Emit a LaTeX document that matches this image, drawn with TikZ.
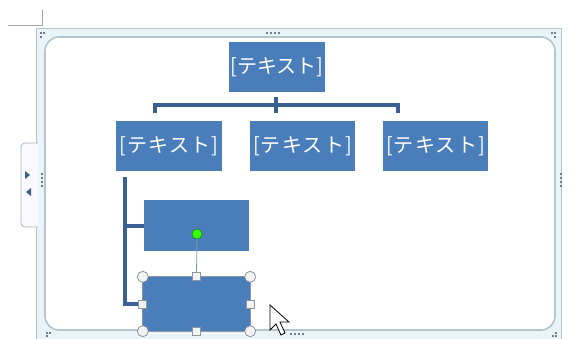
\documentclass[tikz,border=0pt]{standalone}
\usepackage{fontspec}
\newfontfamily\cjk{Noto Sans CJK JP}
\newfontfamily\cjkwide[LetterSpace=6]{Noto Sans CJK JP}
\definecolor{nodeblue}{HTML}{4A7EBB}
\definecolor{linkblue}{HTML}{3A5F92}
\definecolor{framefill}{HTML}{EAF4F8}
\definecolor{frameline}{HTML}{B4C4CC}
\definecolor{dotgray}{HTML}{6F7F8F}
\definecolor{handlegray}{HTML}{8A96A2}
\tikzset{
  box/.style={draw=none, fill=nodeblue, text=white, inner sep=0pt, font=\cjk\fontsize{20}{20}\selectfont},
  widebox/.style={box, font=\cjkwide\fontsize{20}{20}\selectfont},
  link/.style={draw=linkblue, line width=4pt},
  grip/.style={fill=dotgray, draw=none},
  chandle/.style={circle, draw=handlegray, fill=white!90!gray, minimum size=11pt, inner sep=0pt, line width=0.8pt},
  shandle/.style={rectangle, draw=handlegray, fill=white!90!gray, minimum size=8pt, inner sep=0pt, line width=0.8pt}
}
\begin{document}
\begin{tikzpicture}[x=1pt,y=-1pt]
\useasboundingbox (0,0) rectangle (571,338);
% crop marks
\draw[gray!70, line width=0.8pt] (8,25) -- (42,25) -- (42,10);
% frame
\draw[frameline, fill=framefill, line width=0.8pt] (36,28) rectangle (561,345);
\draw[frameline, fill=white, line width=1.6pt, rounded corners=14pt] (45,37) rectangle (555,330);
% grips
\foreach \x/\y in {41/33,44/33,41/37,552/33,555/33,555/37,47/333,50/333,47/336,556/333,556/336,553/336}
  \fill[grip] (\x-1,\y-1) rectangle (\x+1,\y+1);
\foreach \x in {267,271,275,279} \fill[grip] (\x-1,32) rectangle (\x+1,34);
\foreach \x in {291,295,299,303} \fill[grip] (\x-1,333) rectangle (\x+1,335);
\foreach \y in {174,178,182,186} \fill[grip] (560,\y-1) rectangle (562,\y+1);
\foreach \y in {174,178,182,186} \fill[grip] (41,\y-1) rectangle (43,\y+1);
% left tab
\draw[frameline!80!gray, fill=white!92!blue!30, line width=0.8pt, rounded corners=4pt] (38,143) -- (21,143) -- (21,227) -- (38,227);
\fill[linkblue] (25,171) -- (30,175) -- (25,179) -- cycle;
\fill[linkblue] (31,188) -- (26,192) -- (31,196) -- cycle;
% nodes
\node[box, minimum width=96pt, minimum height=50pt] (top) at (277,67) {[テキスト]};
\node[widebox, minimum width=106pt, minimum height=50pt] (a) at (169,146) {[テキスト]};
\node[widebox, minimum width=105pt, minimum height=50pt] (b) at (302.5,146) {[テキスト]};
\node[widebox, minimum width=105pt, minimum height=50pt] (c) at (435.5,146) {[テキスト]};
\node[box, minimum width=105pt, minimum height=51pt] (d) at (196.5,225.5) {};
\node[box, minimum width=107pt, minimum height=54pt] (e) at (196.5,304) {};
% connectors
\coordinate (tt) at (276,97);
\coordinate (tb) at (276,113);
\coordinate (bl) at (155,105);
\coordinate (br) at (398,105);
\coordinate (bld) at (155,113);
\coordinate (brd) at (398,113);
\draw[link] (bld) -- (bl) -- (br) -- (brd);
\draw[link] (tt) -- (tb);
\coordinate (va) at (125,177);
\coordinate (vb) at (125,304);
\coordinate (vt) at (125,226);
\draw[link] (va) -- (vb) -- (vb -| e.west);
\draw[link] (vt) -- (vt -| d.west);
% selection
\draw[handlegray, line width=0.8pt] (e.north west) rectangle (e.south east);
\draw[white, line width=1pt] ([shift={(-2,-2)}]e.north west) rectangle ([shift={(2,2)}]e.south east);
\node[circle, fill=green!70!lime, draw=green!45!black, minimum size=10pt, inner sep=0pt] (rot) at (197,234) {};
\draw[handlegray, line width=0.8pt] (rot) -- (e.north);
\node[chandle] at (e.north west) {};
\node[chandle] at (e.north east) {};
\node[chandle] at (e.south west) {};
\node[chandle] at (e.south east) {};
\node[shandle] at (e.north) {};
\node[shandle] at (e.south) {};
\node[shandle] at (e.west) {};
\node[shandle] at (e.east) {};
% cursor
\draw[black, fill=white, line width=0.8pt, line join=miter] (270,305) -- (270,330) -- (276,324) -- (281,335) -- (285,333) -- (280,322) -- (289,322) -- cycle;
\end{tikzpicture}
\end{document}
